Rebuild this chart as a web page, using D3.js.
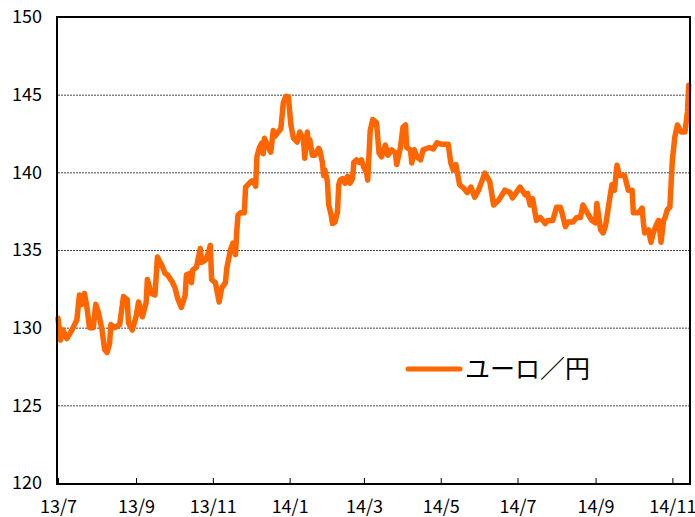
<!DOCTYPE html>
<html><head><meta charset="utf-8">
<script src="https://cdn.jsdelivr.net/npm/d3@7"></script>
<style>
html,body{margin:0;padding:0;background:#fff;}
svg{display:block;}
</style></head>
<body>
<svg id="chart" width="695" height="517"></svg>
<script>
const seriesName = "ユーロ／円";
const dates = [
"2013-07-01","2013-07-03","2013-07-05","2013-07-08","2013-07-11","2013-07-13","2013-07-16","2013-07-18","2013-07-20","2013-07-22",
"2013-07-24","2013-07-26","2013-07-29","2013-07-31","2013-08-02","2013-08-05","2013-08-07","2013-08-09","2013-08-11","2013-08-12",
"2013-08-15","2013-08-19","2013-08-22","2013-08-25","2013-08-26","2013-08-29","2013-09-01","2013-09-03","2013-09-06","2013-09-09",
"2013-09-10","2013-09-13","2013-09-16","2013-09-18","2013-09-22","2013-09-24","2013-09-26","2013-09-30","2013-10-02","2013-10-04",
"2013-10-07","2013-10-10","2013-10-11","2013-10-14","2013-10-15","2013-10-16","2013-10-19","2013-10-22","2013-10-23","2013-10-26",
"2013-10-28","2013-10-30","2013-10-31","2013-11-03","2013-11-06","2013-11-08","2013-11-11","2013-11-12","2013-11-15","2013-11-17",
"2013-11-19","2013-11-20","2013-11-21","2013-11-23","2013-11-26","2013-11-27","2013-11-30","2013-12-02","2013-12-04","2013-12-05",
"2013-12-06","2013-12-08","2013-12-10","2013-12-11","2013-12-12","2013-12-15","2013-12-17","2013-12-19","2013-12-20","2013-12-22",
"2013-12-25","2013-12-27","2013-12-29","2013-12-31","2014-01-02","2014-01-04","2014-01-07","2014-01-09","2014-01-12","2014-01-13",
"2014-01-15","2014-01-16","2014-01-17","2014-01-19","2014-01-21","2014-01-24","2014-01-25","2014-01-27","2014-01-28","2014-01-29",
"2014-01-31","2014-02-01","2014-02-03","2014-02-04","2014-02-06","2014-02-08","2014-02-09","2014-02-10","2014-02-12","2014-02-14",
"2014-02-16","2014-02-18","2014-02-20","2014-02-21","2014-02-23","2014-02-25","2014-02-27","2014-03-01","2014-03-03","2014-03-04",
"2014-03-06","2014-03-08","2014-03-11","2014-03-13","2014-03-15","2014-03-18","2014-03-20","2014-03-23","2014-03-26","2014-03-27",
"2014-03-30","2014-04-01","2014-04-03","2014-04-04","2014-04-07","2014-04-08","2014-04-10","2014-04-12","2014-04-15","2014-04-17",
"2014-04-22","2014-04-25","2014-04-28","2014-05-02","2014-05-07","2014-05-09","2014-05-11","2014-05-13","2014-05-16","2014-05-19",
"2014-05-22","2014-05-25","2014-05-28","2014-05-31","2014-06-03","2014-06-05","2014-06-09","2014-06-12","2014-06-16","2014-06-21",
"2014-06-25","2014-06-27","2014-07-03","2014-07-07","2014-07-09","2014-07-11","2014-07-13","2014-07-16","2014-07-19","2014-07-23",
"2014-07-25","2014-07-29","2014-08-01","2014-08-04","2014-08-05","2014-08-08","2014-08-10","2014-08-14","2014-08-17","2014-08-20",
"2014-08-22","2014-08-25","2014-08-29","2014-09-01","2014-09-02","2014-09-05","2014-09-07","2014-09-09","2014-09-12","2014-09-14",
"2014-09-16","2014-09-18","2014-09-20","2014-09-24","2014-09-27","2014-09-30","2014-10-01","2014-10-05","2014-10-08","2014-10-09",
"2014-10-10","2014-10-13","2014-10-15","2014-10-17","2014-10-20","2014-10-21","2014-10-23","2014-10-25","2014-10-26","2014-10-28",
"2014-10-30","2014-11-01","2014-11-03","2014-11-05","2014-11-08","2014-11-11","2014-11-13","2014-11-14"
];
const values = [
130.6,129.2,129.85,129.3,129.7,130.0,130.5,132.1,131.5,132.2,
131.3,130.0,130.0,131.5,131.0,129.85,128.6,128.4,129.0,130.2,
130.0,130.2,132.0,131.8,130.3,129.85,130.7,131.65,130.7,131.6,
133.1,132.2,132.1,134.55,133.9,133.5,133.4,132.9,132.55,131.9,
131.3,132.1,133.4,133.5,132.9,133.7,133.9,135.1,134.2,134.35,
134.7,135.3,133.1,132.9,131.65,132.55,132.9,133.8,135.0,135.45,
134.7,136.2,137.25,137.4,137.4,139.05,139.3,139.45,139.3,139.1,
141.0,141.6,141.9,141.2,142.2,141.6,141.3,142.7,142.3,142.5,
142.8,144.5,144.9,144.85,143.05,142.2,141.95,142.6,142.1,140.9,
142.6,141.6,142.1,141.1,141.1,141.55,141.4,140.65,139.8,140.15,
139.4,137.9,137.25,136.7,136.8,137.45,139.2,139.5,139.6,139.3,
139.75,139.3,139.6,140.65,140.8,140.65,140.8,140.3,140.0,139.5,
142.7,143.4,143.2,141.25,141.0,141.75,141.1,141.45,141.25,140.5,
141.6,142.9,143.05,141.6,141.45,140.6,141.45,141.0,140.8,141.45,
141.6,141.5,141.9,141.8,141.8,140.6,140.15,140.5,139.2,139.0,
138.7,139.05,138.4,138.85,139.5,139.95,139.4,137.9,138.2,138.85,
138.7,138.35,139.05,138.55,138.65,137.9,138.3,136.9,137.1,136.7,
136.9,136.9,137.75,137.75,137.5,136.5,136.8,136.8,137.1,137.1,
137.9,137.45,136.9,136.75,138.0,136.3,136.1,136.6,138.2,139.2,
138.85,140.45,139.8,139.8,138.85,138.85,137.4,137.4,137.7,136.75,
136.1,136.3,135.5,136.15,136.75,136.9,135.5,136.9,137.05,137.6,
137.75,140.8,142.3,143.05,142.6,142.6,143.9,145.6
];
const xTickDates = ["2013-07-01","2013-09-01","2013-11-01","2014-01-01","2014-03-01","2014-05-01","2014-07-01","2014-09-01","2014-11-01"];
const xTickLabels = ["13/7","13/9","13/11","14/1","14/3","14/5","14/7","14/9","14/11"];
const yTicks = [120,125,130,135,140,145,150];
const yGrid = [125,130,135,140,145];

const parse = d3.timeParse("%Y-%m-%d");
const data = dates.map((d,i)=>({date:parse(d), value:values[i]}));

const L = 58, R = 690, T = 17, B = 483;
const svg = d3.select("#chart");
const x = d3.scaleTime().domain([parse("2013-07-01"), parse("2014-11-15")]).range([L, R]);
const y = d3.scaleLinear().domain([120,150]).range([B, T]);

const font = "'Noto Sans CJK JP','Noto Sans',sans-serif";

// grid
svg.append("g").selectAll("line").data(yGrid).join("line")
  .attr("x1", L).attr("x2", R)
  .attr("y1", d=>y(d)+0.5).attr("y2", d=>y(d)+0.5)
  .attr("stroke", "#444").attr("stroke-width", 1).attr("stroke-dasharray", "2,1");

// x axis
const tickMap = new Map(xTickDates.map((d,i)=>[+parse(d), xTickLabels[i]]));
const xAxis = d3.axisBottom(x)
  .tickValues(xTickDates.map(parse))
  .tickSize(-5).tickPadding(17)
  .tickFormat(d=>tickMap.get(+d));
const gx = svg.append("g").attr("transform", `translate(0,${B})`).call(xAxis);
gx.select(".domain").remove();
gx.selectAll("line").attr("stroke", "#000");
gx.selectAll("text").attr("font-family", font).attr("font-size", 18).attr("fill", "#000");

// y axis
const yAxis = d3.axisLeft(y).tickValues(yTicks).tickSize(0).tickPadding(16);
const gy = svg.append("g").attr("transform", `translate(${L},0)`).call(yAxis);
gy.select(".domain").remove();
gy.selectAll("text").attr("font-family", font).attr("font-size", 18).attr("fill", "#000");

// line
const line = d3.line().x(d=>x(d.date)).y(d=>y(d.value));
svg.append("path").datum(data)
  .attr("d", line).attr("fill", "none")
  .attr("stroke", "#FF6600").attr("stroke-width", 5.5)
  .attr("stroke-linejoin", "round").attr("stroke-linecap", "round");

// frame
svg.append("rect").attr("x", L-1).attr("y", T).attr("width", R-L+1).attr("height", B-T+1)
  .attr("fill", "none").attr("stroke", "#000").attr("stroke-width", 2);

// legend
const lg = svg.append("g");
lg.append("line").attr("x1", 408).attr("x2", 460).attr("y1", 369).attr("y2", 369)
  .attr("stroke", "#FF6600").attr("stroke-width", 5).attr("stroke-linecap", "round");
lg.append("text").attr("x", 465).attr("y", 378).text(seriesName)
  .attr("font-family", font).attr("font-size", 25).attr("fill", "#000");
</script>
</body></html>
